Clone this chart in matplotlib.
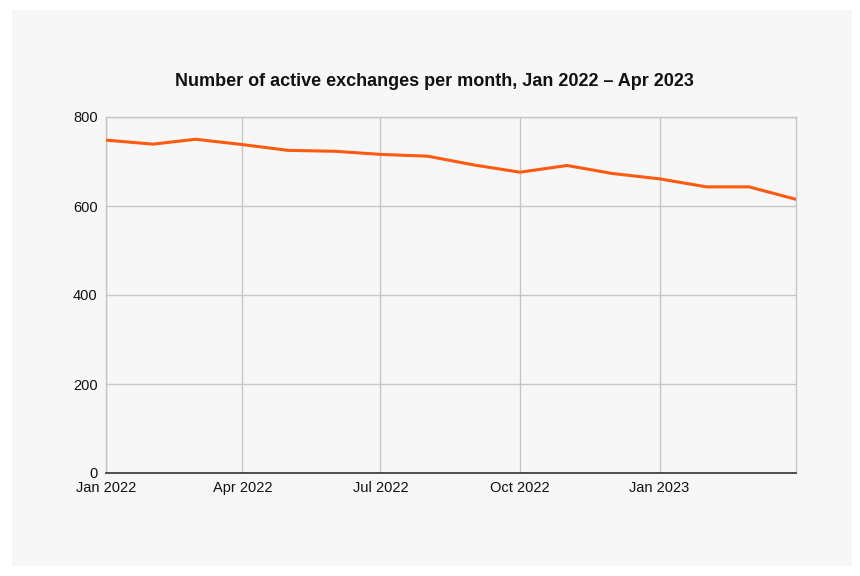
import matplotlib
matplotlib.use("Agg")
from matplotlib import pyplot as plt
from matplotlib.patches import Rectangle
from datetime import date

plt.rcParams['font.family'] = ['Liberation Sans', 'DejaVu Sans']

months = ["Jan 2022", "Feb 2022", "Mar 2022", "Apr 2022", "May 2022", "Jun 2022",
          "Jul 2022", "Aug 2022", "Sep 2022", "Oct 2022", "Nov 2022", "Dec 2022",
          "Jan 2023", "Feb 2023", "Mar 2023", "Apr 2023"]
exchanges = [748, 739, 750, 738, 725, 723, 716, 712, 692, 676, 691, 673, 661, 643, 643, 615]
tick_labels = ["Jan 2022", "Apr 2022", "Jul 2022", "Oct 2022", "Jan 2023"]

bg = "#f7f7f7"
grid_col = "#c6c6c6"

# months as real dates so the quarter gridlines fall by day count
dates = [date(2022 + i // 12, i % 12 + 1, 1) for i in range(len(months))]

fig = plt.figure(figsize=(8.6, 5.76), dpi=100, facecolor="white")
fig.patches.append(Rectangle((12/860, 1-566/576), 840/860, 556/576,
                             transform=fig.transFigure, facecolor=bg,
                             edgecolor="none", zorder=-5))

ax = fig.add_axes([106/860, 1-473/576, 690/860, 356/576])
ax.set_zorder(2)
ax.set_facecolor(bg)

ax.plot(dates, exchanges, color="#ff5a0f", linewidth=2.2, zorder=3, solid_joinstyle="round")

ax.set_xlim(dates[0], dates[-1])
ax.set_ylim(0, 800)
ticks = [dates[months.index(t)] for t in tick_labels]
ax.set_xticks(ticks)
ax.set_xticklabels(tick_labels)
ax.set_yticks([0, 200, 400, 600, 800])

ax.grid(True, color=grid_col, linewidth=1)
ax.set_axisbelow(True)
for s in ["top", "right", "left"]:
    ax.spines[s].set_color(grid_col)
    ax.spines[s].set_linewidth(1)
ax.spines["bottom"].set_color("#333333")
ax.spines["bottom"].set_linewidth(1.2)

ax.tick_params(axis="both", length=0, labelsize=10.5, colors="#111111")
ax.tick_params(axis="y", pad=6)
ax.tick_params(axis="x", pad=6)

fig.text(434/860, 1-82/576, "Number of active exchanges per month, Jan 2022 \u2013 Apr 2023",
         ha="center", va="center", fontsize=13, fontweight="bold", color="#111111")

fig.savefig("out.png", dpi=100, facecolor="white")
